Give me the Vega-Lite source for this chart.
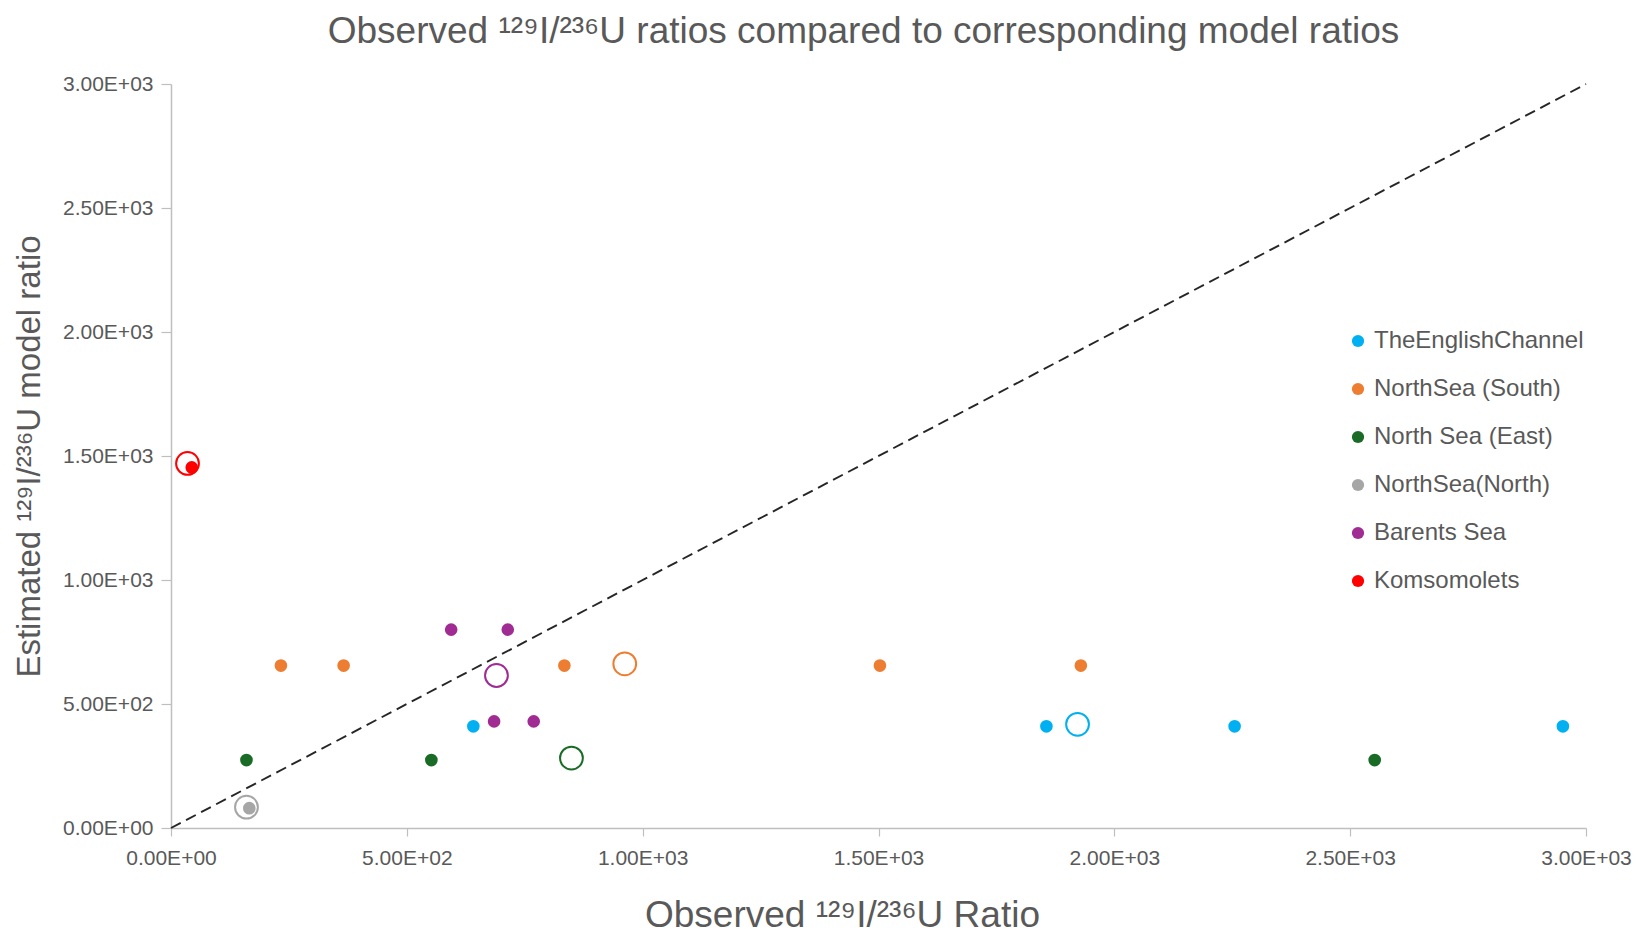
{
  "$schema": "https://vega.github.io/schema/vega-lite/v6.json",
  "width": 1415,
  "height": 744,
  "autosize": {"type": "none"},
  "padding": {"left": 171, "top": 84, "right": 53, "bottom": 108},
  "background": "white",
  "config": {
    "font": "Liberation Sans",
    "view": {"stroke": null},
    "axis": {
      "grid": false,
      "domainColor": "#BFBFBF",
      "domainWidth": 1.5,
      "tickColor": "#BFBFBF",
      "tickWidth": 1.2,
      "labelColor": "#595959",
      "labelFontSize": 21,
      "labelFlush": false,
      "titleColor": "#595959",
      "titleFontWeight": "normal"
    },
    "legend": {"padding": 0}
  },
  "title": {
    "text": "Observed ¹²⁹I/²³⁶U ratios compared to corresponding model ratios",
    "fontSize": 37,
    "fontWeight": "normal",
    "color": "#595959",
    "anchor": "middle",
    "dx": -15,
    "offset": 22
  },
  "datasets": {
    "pts": [
      {"region": "TheEnglishChannel", "kind": "sample", "observed": 641, "model": 410},
      {"region": "TheEnglishChannel", "kind": "sample", "observed": 1856, "model": 410},
      {"region": "TheEnglishChannel", "kind": "sample", "observed": 2255, "model": 410},
      {"region": "TheEnglishChannel", "kind": "sample", "observed": 2951, "model": 410},
      {"region": "TheEnglishChannel", "kind": "mean", "observed": 1922, "model": 418},
      {"region": "NorthSea (South)", "kind": "sample", "observed": 233, "model": 655},
      {"region": "NorthSea (South)", "kind": "sample", "observed": 366, "model": 655},
      {"region": "NorthSea (South)", "kind": "sample", "observed": 834, "model": 655},
      {"region": "NorthSea (South)", "kind": "sample", "observed": 1503, "model": 655},
      {"region": "NorthSea (South)", "kind": "sample", "observed": 1929, "model": 655},
      {"region": "NorthSea (South)", "kind": "mean", "observed": 962, "model": 662},
      {"region": "North Sea (East)", "kind": "sample", "observed": 160, "model": 274},
      {"region": "North Sea (East)", "kind": "sample", "observed": 552, "model": 274},
      {"region": "North Sea (East)", "kind": "sample", "observed": 2552, "model": 274},
      {"region": "North Sea (East)", "kind": "mean", "observed": 849, "model": 282},
      {"region": "NorthSea(North)", "kind": "sample", "observed": 166, "model": 80},
      {"region": "NorthSea(North)", "kind": "mean", "observed": 160, "model": 84},
      {"region": "Barents Sea", "kind": "sample", "observed": 594, "model": 800},
      {"region": "Barents Sea", "kind": "sample", "observed": 714, "model": 800},
      {"region": "Barents Sea", "kind": "sample", "observed": 685, "model": 430},
      {"region": "Barents Sea", "kind": "sample", "observed": 769, "model": 430},
      {"region": "Barents Sea", "kind": "mean", "observed": 690, "model": 615},
      {"region": "Komsomolets", "kind": "sample", "observed": 44, "model": 1454},
      {"region": "Komsomolets", "kind": "mean", "observed": 35, "model": 1470}
    ],
    "diag": [
      {"observed": 0, "model": 0},
      {"observed": 3000, "model": 3000}
    ]
  },
  "resolve": {"legend": {"color": "independent"}},
  "layer": [
    {
      "data": {"name": "diag"},
      "mark": {"type": "line", "color": "#262626", "strokeDash": [11, 6], "strokeWidth": 1.9},
      "encoding": {
        "x": {"field": "observed", "type": "quantitative"},
        "y": {"field": "model", "type": "quantitative"}
      }
    },
    {
      "data": {"name": "pts"},
      "transform": [{"filter": "datum.kind == 'mean'"}],
      "mark": {"type": "point", "shape": "circle", "filled": false, "size": 520, "strokeWidth": 2, "opacity": 1},
      "encoding": {
        "x": {"field": "observed", "type": "quantitative"},
        "y": {"field": "model", "type": "quantitative"},
        "color": {"field": "region", "type": "nominal", "legend": null}
      }
    },
    {
      "data": {"name": "pts"},
      "transform": [{"filter": "datum.kind == 'sample'"}],
      "mark": {"type": "circle", "size": 160, "opacity": 1},
      "encoding": {
        "x": {
          "field": "observed",
          "type": "quantitative",
          "scale": {"domain": [0, 3000], "nice": false, "zero": true},
          "axis": {
            "values": [0, 500, 1000, 1500, 2000, 2500, 3000],
            "title": "Observed ¹²⁹I/²³⁶U Ratio",
            "titleFontSize": 37,
            "titleX": 671,
            "titleY": 87,
            "titleBaseline": "middle",
            "tickSize": 8,
            "labelPadding": 11,
            "labelExpr": "datum.value == 0 ? '0.00E+00' : format(datum.value / pow(10, floor(log(datum.value)/LN10 + 1e-9)), '.2f') + 'E+' + (floor(log(datum.value)/LN10 + 1e-9) < 10 ? '0' : '') + floor(log(datum.value)/LN10 + 1e-9)"
          }
        },
        "y": {
          "field": "model",
          "type": "quantitative",
          "scale": {"domain": [0, 3000], "nice": false, "zero": true},
          "axis": {
            "values": [0, 500, 1000, 1500, 2000, 2500, 3000],
            "title": "Estimated ¹²⁹I/²³⁶U model ratio",
            "titleFontSize": 33,
            "titleX": -142,
            "titleY": 372,
            "titleBaseline": "middle",
            "tickSize": 10,
            "labelPadding": 8,
            "labelExpr": "datum.value == 0 ? '0.00E+00' : format(datum.value / pow(10, floor(log(datum.value)/LN10 + 1e-9)), '.2f') + 'E+' + (floor(log(datum.value)/LN10 + 1e-9) < 10 ? '0' : '') + floor(log(datum.value)/LN10 + 1e-9)"
          }
        },
        "color": {
          "field": "region",
          "type": "nominal",
          "scale": {
            "domain": ["TheEnglishChannel", "NorthSea (South)", "North Sea (East)", "NorthSea(North)", "Barents Sea", "Komsomolets"],
            "range": ["#00B0F0", "#ED7D31", "#1A6B25", "#A6A6A6", "#A02B93", "#FF0000"]
          },
          "legend": {
            "title": null,
            "orient": "none",
            "legendX": 1175,
            "legendY": 245,
            "symbolType": "circle",
            "symbolSize": 150,
            "symbolStrokeWidth": 0,
            "symbolOpacity": 1,
            "labelFontSize": 24,
            "labelLimit": 0,
            "labelColor": "#595959",
            "rowPadding": 24,
            "labelOffset": 4
          }
        }
      }
    }
  ]
}
